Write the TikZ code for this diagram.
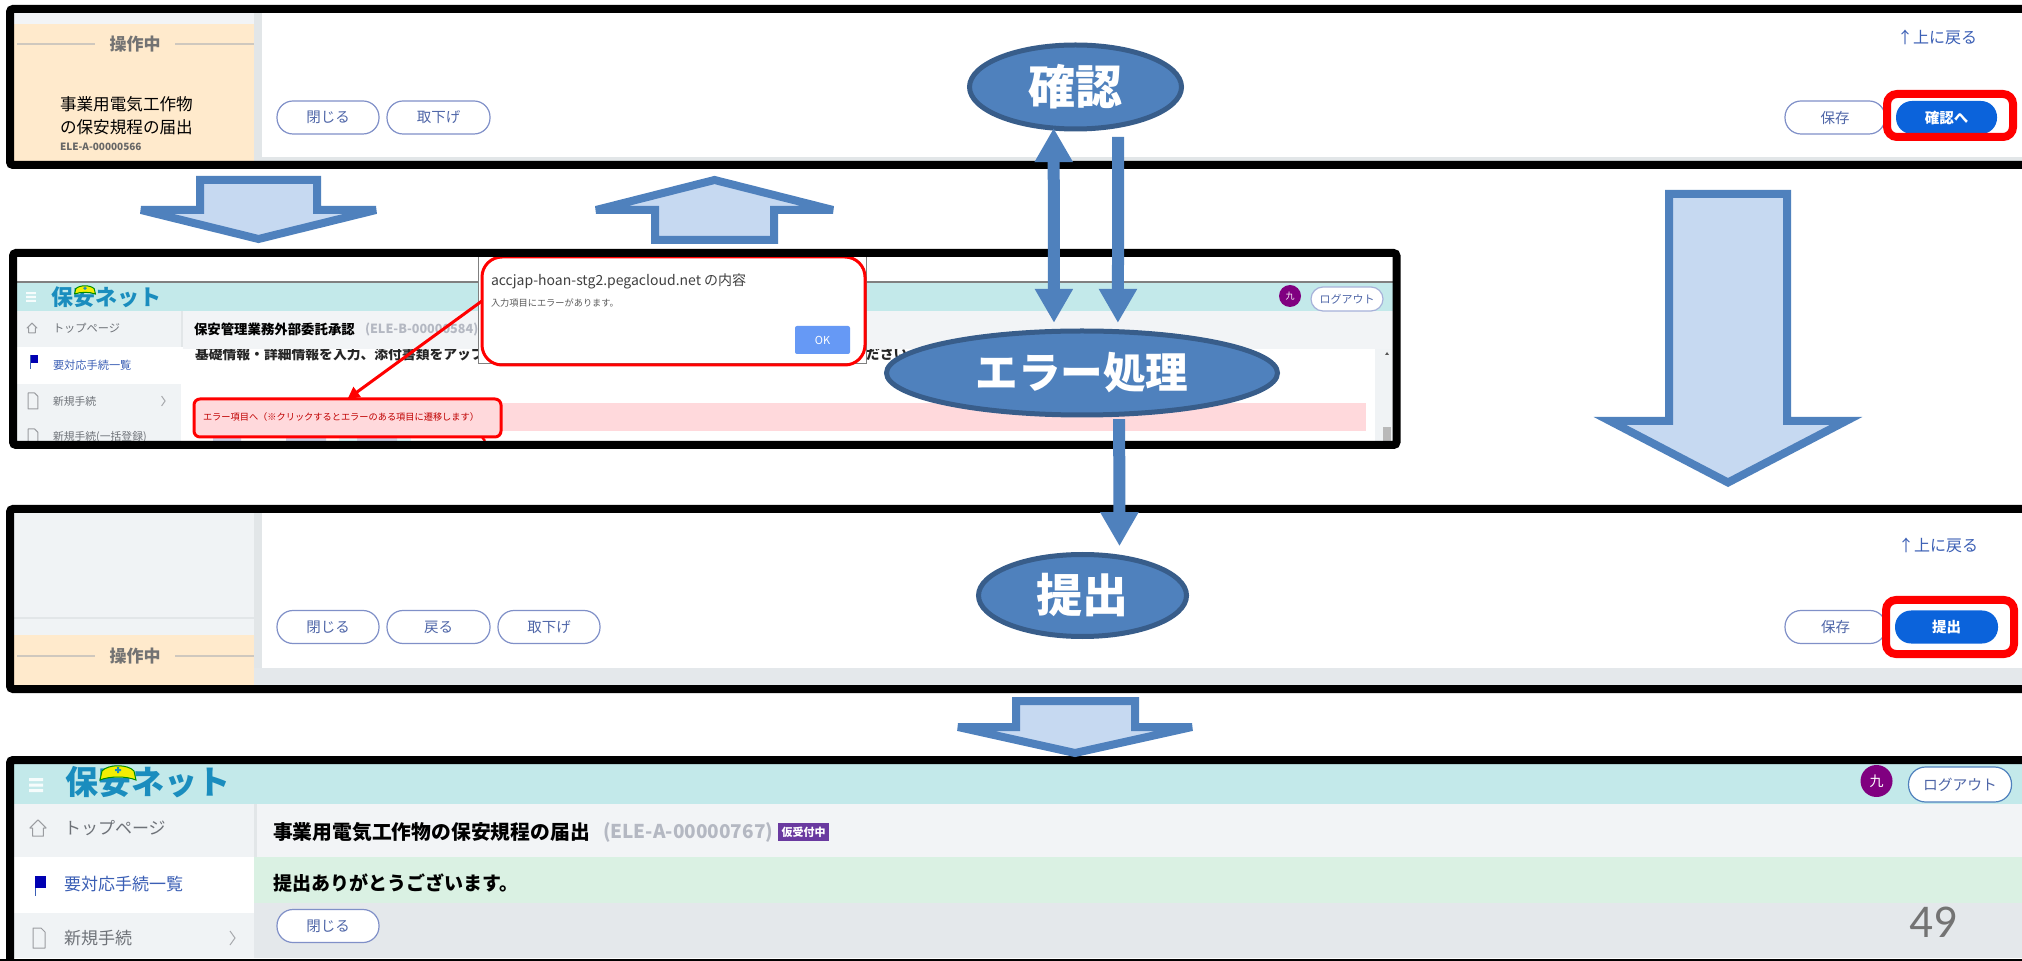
\documentclass[tikz,border=0pt]{standalone}
\usepackage{fontspec}
\setmainfont{Noto Sans CJK JP}
\newfontfamily\carlitofont{Carlito}
\usetikzlibrary{arrows.meta,shapes.geometric}
\definecolor{boxblue}{HTML}{4F81BD}
\definecolor{boxedge}{HTML}{385D8A}
\definecolor{paleblue}{HTML}{C6D9F1}
\definecolor{peach}{HTML}{FFEACC}
\definecolor{sidegrey}{HTML}{F0F3F5}
\definecolor{divgrey}{HTML}{E2E6E8}
\definecolor{stripgrey}{HTML}{E4E8EB}
\definecolor{btnline}{HTML}{8090C8}
\definecolor{btntext}{HTML}{4F66A8}
\definecolor{btnblue}{HTML}{0B63DB}
\definecolor{alertred}{HTML}{FF0000}
\definecolor{linkblue}{HTML}{3B5FB5}
\definecolor{teal}{HTML}{C3E9EA}
\definecolor{logoblue}{HTML}{1A8DBE}
\definecolor{pink}{HTML}{FFD9DC}
\definecolor{mint}{HTML}{DAF1E3}
\definecolor{titlegrey}{HTML}{B4B8C2}
\definecolor{badge}{HTML}{6A3AA0}
\definecolor{avatar}{HTML}{800080}
\definecolor{okblue}{HTML}{6699F5}
\definecolor{menugrey}{HTML}{6E7278}
\definecolor{headband}{HTML}{F2F4F6}
\definecolor{sideline}{HTML}{CFC8BE}
\tikzset{
  x=0.5pt,y=-0.5pt,
  fz/.style={font=\fontsize{#1}{#1}\selectfont},
  fzb/.style={font=\fontsize{#1}{#1}\selectfont\bfseries},
  lbl/.style={inner sep=0,outer sep=0,anchor=west},
  btn/.style={draw=btnline,line width=.6pt,rounded corners=8pt,fill=white,inner sep=0,outer sep=0,
    minimum width=#1*.5pt,minimum height=16.5pt,text=btntext,fz=7.25},
  bluebtn/.style={fill=btnblue,rounded corners=8pt,inner sep=0,outer sep=0,
    minimum width=#1*.5pt,minimum height=16.5pt,text=white,fzb=7.25},
  redring/.style={draw=alertred,line width=4pt,rounded corners=5pt},
  frame/.style={draw=black,line width=4pt,rounded corners=1.5pt},
  bigarrow/.style={draw=boxblue,fill=paleblue,line width=4pt,miter limit=#1},
  bigarrow/.default=5,
  bubble/.style={ellipse,draw=boxedge,fill=boxblue,line width=2.5pt,inner sep=0,outer sep=0,
    text=white,fzb=#1},
  conn/.style={draw=boxblue,line width=6pt,-{Triangle[width=18pt,length=17pt]}},
  homeicon/.pic={\draw[menugrey!70,line width=.5pt,line join=round] (0,-9)--(9,0)--(6,0)--(6,9)--(-6,9)--(-6,0)--(-9,0)--cycle;},
  flagicon/.pic={\draw[linkblue,line width=.4pt] (-5,-9)--(-5,11); \fill[blue!70!black] (-5,-9) rectangle (6,3);},
  docicon/.pic={\draw[menugrey!70,line width=.5pt,line join=round] (-6,-10)--(2,-10)--(6,-6)--(6,10)--(-6,10)--cycle;},
  chev/.pic={\draw[menugrey!60,line width=.5pt] (-2,-7)--(3,0)--(-2,7);},
  burger/.pic={\fill[white!85!teal] (-7,-7) rectangle (7,-4) (-7,-1.5) rectangle (7,1.5) (-7,4) rectangle (7,7);},
  hat/.pic={\draw[fill=yellow!95!green,draw=green!55!black,line width=.5pt]
     (-18,7)--(-16,-2) .. controls (-10,-9) and (10,-9) .. (16,-2) -- (18,7) .. controls (8,3) and (-8,3) .. cycle;
     \fill[logoblue] (-1,-6) rectangle (1,0) (-3,-4) rectangle (3,-2);},
}
\begin{document}
\begin{tikzpicture}
\useasboundingbox (0,0) rectangle (2022,961);
\clip (0,0) rectangle (2022,961);
\fill[white] (0,0) rectangle (2022,961);

% ---------- panel 1
\fill[headband] (14,13) rectangle (254,24);
\fill[peach] (14,24) rectangle (254,161);
\fill[divgrey] (254,13) rectangle (262,161);
\fill[divgrey] (254,157) rectangle (2022,161);
\draw[sideline,line width=1.3pt] (17,44)--(95,44) (175,44)--(254,44);
\node[fzb=8.5,text=gray!90!black,inner sep=0] (a1side) at (135,44) {操作中};
\node[fz=8.3,lbl] (a1name) at (60,104) {事業用電気工作物};
\node[fz=8.3,lbl] (a1nameb) at (60,127) {の保安規程の届出};
\node[fzb=5,lbl,text=gray!80!black] (a1id) at (60,147) {ELE-A-00000566};
\node[btn=102] (a1close) at (328,117.5) {閉じる};
\node[btn=103] (a1with) at (438.5,117.5) {取下げ};
\node[btn=100] (a1save) at (1835,117.5) {保存};
\node[bluebtn=101] (a1go) at (1946.5,117.5) {確認へ};
\draw[redring] (1887,94) rectangle (2013,137);
\node[fz=8,lbl,text=linkblue] (a1top) at (1897,37) {↑上に戻る};
\draw[frame] (10,9) rectangle (2040,165);

% ---------- panel 2
\fill[white] (17,257) rectangle (1393,441);
\draw[gray,line width=.7pt] (17,282)--(1393,282);
\fill[teal] (17,283) rectangle (1393,311);
\fill[sidegrey] (17,311) rectangle (181,441);
\fill[white] (17,347) rectangle (181,384);
\fill[divgrey] (181,311) rectangle (183,347);
\node[fzb=6.9,lbl,text=black!85] (b1sub) at (195,354) {基礎情報・詳細情報を入力、添付書類をアップ};
\node[fzb=6.9,lbl,text=black!85] (b1sube) at (866,354) {ださい};
\fill[headband] (183,311) rectangle (1393,349);
\fill[sidegrey] (1375,349) rectangle (1393,441);
\fill[gray!55] (1383,427) rectangle (1391,441);
\fill[gray!70!black] (1387,352) -- (1389,355) -- (1385,355) -- cycle;
\pic at (31,297) [scale=.7] {burger};
\node[fzb=11,lbl,text=logoblue] (b1logo) at (51,297) {保安ネット};
\pic at (85,290) [scale=.58] {hat};
\pic at (32,328) [scale=.55] {homeicon};
\pic at (34,361) [scale=.7] {flagicon};
\pic at (33,401) [scale=.8] {docicon};
\pic at (33,437) [scale=.8] {docicon};
\pic at (163,401) [scale=.7] {chev};
\node[fz=5.6,lbl,text=menugrey] (b1m1) at (53,328) {トップページ};
\node[fz=5.6,lbl,text=linkblue] (b1m2) at (53,365) {要対応手続一覧};
\node[fz=5.4,lbl,text=menugrey] (b1m3) at (53,401) {新規手続};
\node[fz=5.4,lbl,text=menugrey] (b1m4) at (53,437) {新規手続(一括登録)};
\node[fzb=6.7,lbl] (b1title) at (194,329) {保安管理業務外部委託承認};
\node[fzb=6.3,lbl,text=titlegrey] (b1id) at (365,329) {(ELE-B-00000584)};
\fill[pink] (195,403) rectangle (1366,431);
\fill[blue!10!cyan!15] (339,431) rectangle (411,441);
\fill[btnline!40] (213,438) rectangle (241,441) (286,438) rectangle (326,441) (357,438) rectangle (397,441);
\node[draw=alertred,line width=1.5pt,rounded corners=3pt,fill=pink,inner sep=0,outer sep=0,minimum width=153.5pt,minimum height=19pt] (errbox) at (347.5,418) {};
\node[fz=4.6,lbl,text=alertred!75!black] (b1err) at (203,417) {エラー項目へ（※クリックするとエラーのある項目に遷移します）};
\draw[alertred,line width=1.2pt] (482,437)--(485,441);
\fill[white] (478,257) rectangle (866,364);
\draw[gray,line width=.5pt] (478,257) -- (478,364) -- (866,364) -- (866,257);
\node[draw=alertred,line width=1.5pt,rounded corners=10pt,inner sep=0,outer sep=0,minimum width=191.5pt,minimum height=54pt] (dlg) at (673.5,311) {};
\node[fz=7,lbl,text=black!75] (dlgt) at (491,281) {accjap-hoan-stg2.pegacloud.net の内容};
\node[fz=4.6,lbl,text=black!65] (dlgm) at (491,303) {入力項目にエラーがあります。};
\node[fill=okblue,rounded corners=1pt,minimum width=27.5pt,minimum height=14pt,inner sep=0,text=white,fz=5.5] (dlgok) at (822.5,340) {OK};
\draw[alertred,line width=1.5pt,-{Triangle[width=6pt,length=6pt]}] (dlg.177) -- (errbox.north);
\node[circle,fill=avatar,minimum size=11pt,inner sep=0,text=white,fz=4.5] (b1av) at (1290,296) {九};
\node[btn=72,draw=btnline!70,minimum height=12pt,rounded corners=6pt,fz=5.5] (b1out) at (1347,299) {ログアウト};
\draw[frame] (13,253) rectangle (1396.5,445);

% ---------- panel 3
\fill[sidegrey] (14,513) rectangle (254,635);
\draw[divgrey,line width=1pt] (14,618)--(254,618);
\fill[peach] (14,635) rectangle (254,685);
\fill[divgrey] (254,513) rectangle (262,685);
\fill[stripgrey] (254,668) rectangle (2022,685);
\draw[sideline,line width=1.3pt] (17,656)--(95,656) (175,656)--(254,656);
\node[fzb=8.5,text=gray!90!black,inner sep=0] (c1side) at (135,656) {操作中};
\node[btn=102] (c1close) at (328,627) {閉じる};
\node[btn=103] (c1back) at (438.5,627) {戻る};
\node[btn=102] (c1with) at (549,627) {取下げ};
\node[btn=101] (c1save) at (1835.5,627) {保存};
\node[bluebtn=103] (c1go) at (1946.5,627) {提出};
\draw[redring] (1886,600) rectangle (2014,654);
\node[fz=8,lbl,text=linkblue] (c1top) at (1898,545) {↑上に戻る};
\draw[frame] (10,509) rectangle (2040,689);

% ---------- panel 4
\fill[teal] (14,764) rectangle (2022,804);
\fill[sidegrey] (14,804) rectangle (254,958);
\fill[white] (14,857) rectangle (254,913);
\fill[headband] (254,804) rectangle (2022,857);
\fill[divgrey] (254,804) rectangle (257,857);
\fill[mint] (254,857) rectangle (2022,903);
\fill[stripgrey] (254,903) rectangle (2022,958);
\pic at (36,785) {burger};
\node[fzb=16.5,lbl,text=logoblue] (d1logo) at (65,782) {保安ネット};
\pic at (118,773) {hat};
\pic at (38,828) [scale=.9] {homeicon};
\pic at (40,885) {flagicon};
\pic at (39,938) {docicon};
\pic at (232,938) {chev};
\node[fz=8.5,lbl,text=menugrey] (d1m1) at (64,828) {トップページ};
\node[fz=8.5,lbl,text=linkblue] (d1m2) at (64,884) {要対応手続一覧};
\node[fz=8.5,lbl,text=menugrey] (d1m3) at (64,938) {新規手続};
\node[fzb=9.9,lbl] (d1title) at (273,832) {事業用電気工作物の保安規程の届出};
\node[fzb=9.5,lbl,text=titlegrey] (d1id) at (603,832) {(ELE-A-00000767)};
\node[fill=badge,minimum width=25.5pt,minimum height=9pt,inner sep=0,text=white,fzb=5.5] (d1badge) at (803.5,832) {仮受付中};
\node[fzb=9.5,lbl] (d1thanks) at (273,883) {提出ありがとうございます。};
\node[btn=102] (d1close) at (328,926) {閉じる};
\node[circle,fill=avatar,minimum size=16pt,inner sep=0,text=white,fz=7] (d1av) at (1876.5,781) {九};
\node[btn=103,draw=boxblue,minimum height=17.5pt,rounded corners=8.5pt,fz=7.4] (d1out) at (1960,784.5) {ログアウト};
\node[inner sep=0,text=gray!90!black,font=\carlitofont\fontsize{23.5}{23.5}\selectfont] (pageno) at (1933,922) {49};
\draw[frame] (10,760) rectangle (2040,975);
\draw[black,line width=.8pt] (0,960) -- (2022,960);

% ---------- block arrows
\path[bigarrow=3] (200,180)--(317,180)--(317,210)--(376,210)--(258.5,239)--(141,210)--(200,210)--cycle;
\path[bigarrow=3] (714.5,180)--(833,210)--(774,210)--(774,240)--(655,240)--(655,210)--(596,210)--cycle;
\path[bigarrow=5] (1669,194)--(1787,194)--(1787,421)--(1846,421)--(1728,482.5)--(1610,421)--(1669,421)--cycle;
\path[bigarrow=3] (1016,701)--(1135,701)--(1135,727)--(1192,727)--(1075,753)--(958,727)--(1016,727)--cycle;

% ---------- process bubbles and connectors
\node[bubble=23.5,minimum width=106pt,minimum height=42pt] (confirm) at (1075.5,87) {確認};
\node[bubble=21.3,minimum width=195.5pt,minimum height=42pt] (errproc) at (1082,373) {エラー処理};
\node[bubble=23,minimum width=104pt,minimum height=41pt] (submit) at (1082.5,595.5) {提出};
\draw[draw=boxblue,line width=6pt,{Triangle[width=18pt,length=17pt]}-{Triangle[width=18pt,length=17pt]},shorten >=4.3pt,shorten <=0pt] (confirm.242) -- (errproc.124);
\draw[conn,shorten <=5.7pt,shorten >=4.4pt] (confirm.318) -- (errproc.49);
\draw[conn,shorten <=2.5pt,shorten >=5.5pt] (errproc.312) -- (submit.46);
\end{tikzpicture}
\end{document}
